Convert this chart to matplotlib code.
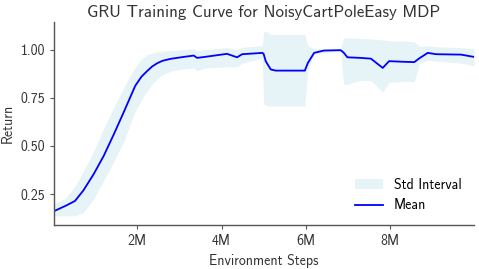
import matplotlib
matplotlib.use("Agg")
import matplotlib.pyplot as plt
from matplotlib.ticker import FuncFormatter

# environment steps (millions)
steps = [0.02, 0.3, 0.52, 0.72, 0.96, 1.2, 1.44, 1.67, 1.95, 2.1, 2.23, 2.35,
         2.47, 2.6, 2.79, 3.1, 3.34, 3.42, 3.6, 4.13, 4.37, 4.49, 4.97, 5.0,
         5.05, 5.17, 5.29, 5.6, 5.98, 6.05, 6.2, 6.43, 6.83, 6.9, 6.99, 7.3,
         7.55, 7.83, 7.98, 8.3, 8.58, 8.7, 8.9, 9.1, 9.4, 9.69, 10.0]

mean = [0.162, 0.19, 0.215, 0.27, 0.353, 0.448, 0.56, 0.672, 0.812, 0.86,
        0.888, 0.912, 0.929, 0.942, 0.952, 0.962, 0.969, 0.957, 0.962, 0.978,
        0.960, 0.976, 0.983, 0.978, 0.94, 0.897, 0.891, 0.891, 0.891, 0.93,
        0.983, 0.995, 0.997, 0.985, 0.960, 0.957, 0.953, 0.905, 0.94, 0.937,
        0.935, 0.955, 0.983, 0.976, 0.975, 0.974, 0.962]

upper = [0.198, 0.23, 0.29, 0.37, 0.47, 0.59, 0.70, 0.80, 0.91, 0.95,
         0.974, 0.982, 0.988, 0.992, 0.995, 1.0, 1.005, 0.995, 1.0, 1.01,
         1.0, 1.012, 1.02, 1.09, 1.095, 1.08, 1.078, 1.078, 1.078, 1.02,
         1.005, 1.005, 1.005, 1.06, 1.06, 1.058, 1.055, 1.05, 1.045, 1.045,
         1.04, 1.017, 1.02, 1.015, 1.012, 1.01, 1.005]

lower = [0.138, 0.138, 0.138, 0.155, 0.224, 0.32, 0.42, 0.52, 0.68, 0.74,
         0.785, 0.82, 0.85, 0.87, 0.888, 0.90, 0.905, 0.89, 0.905, 0.91,
         0.91, 0.93, 0.955, 0.72, 0.71, 0.707, 0.707, 0.707, 0.707, 0.90,
         0.975, 0.985, 0.99, 0.82, 0.82, 0.84, 0.84, 0.78, 0.83, 0.835,
         0.835, 0.93, 0.945, 0.94, 0.935, 0.93, 0.915]

plt.rcParams["font.family"] = ["cmss10", "DejaVu Sans"]

fig = plt.figure(figsize=(4.79, 2.69), dpi=100)
ax = fig.add_axes([0.1127, 0.1636, 0.877, 0.7544])

ax.fill_between(steps, lower, upper, color="lightblue", alpha=0.3,
                linewidth=0, label="Std Interval")
ax.plot(steps, mean, color="blue", linewidth=1.3, label="Mean")

ax.margins(x=0)
ax.set_xticks([2, 4, 6, 8])
ax.xaxis.set_major_formatter(FuncFormatter(lambda v, p: f"{int(v)}M"))
ax.set_yticks([0.25, 0.5, 0.75, 1.0])
ax.yaxis.set_major_formatter(FuncFormatter(lambda v, p: f"{v:.2f}"))

for side in ["top", "right"]:
    ax.spines[side].set_visible(False)
for side in ["left", "bottom"]:
    ax.spines[side].set_color("#555555")
    ax.spines[side].set_linewidth(1.0)
ax.tick_params(colors="#555555", labelcolor="#333333", labelsize=10,
               length=3, width=0.8)

ax.set_xlabel("Environment Steps", fontsize=10, color="#333333")
ax.set_ylabel("Return", fontsize=10, color="#333333")
ax.set_title("GRU Training Curve for NoisyCartPoleEasy MDP", fontsize=12.2,
             color="#333333", pad=4)

ax.legend(loc="lower right", frameon=False, fontsize=10)

fig.savefig("out.png", dpi=100)
